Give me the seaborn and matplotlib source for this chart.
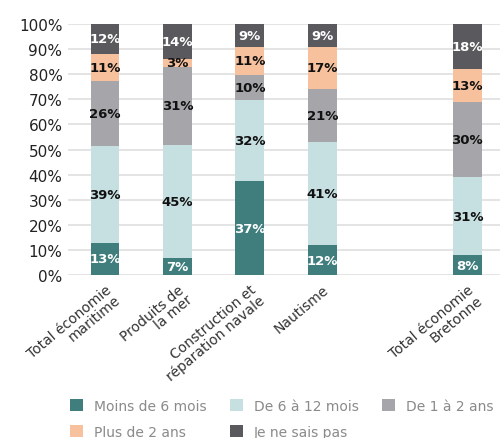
import matplotlib
matplotlib.use("Agg")
import matplotlib.pyplot as plt
import seaborn as sns
import pandas as pd
import numpy as np
from matplotlib.patches import Patch

categories = ["Total économie\nmaritime", "Produits de\nla mer", "Construction et\nréparation navale",
              "Nautisme", "Total économie\nBretonne"]
series = ["Moins de 6 mois", "De 6 à 12 mois", "De 1 à 2 ans", "Plus de 2 ans", "Je ne sais pas"]
moins_6_mois = [13, 7, 37, 12, 8]
de_6_a_12_mois = [39, 45, 32, 41, 31]
de_1_a_2_ans = [26, 31, 10, 21, 30]
plus_2_ans = [11, 3, 11, 17, 13]
ne_sait_pas = [12, 14, 9, 9, 18]

colors = ["#3f7e7d", "#c6dfe1", "#a6a5aa", "#f8c19d", "#5a595e"]
label_colors = ["white", "#111111", "#111111", "#111111", "white"]

values = np.array([moins_6_mois, de_6_a_12_mois, de_1_a_2_ans, plus_2_ans, ne_sait_pas], dtype=float)
# 100% stacked: each bar is scaled to its own total
shares = values / values.sum(axis=0) * 100
tops = np.cumsum(shares, axis=0)

# empty slot separates the regional total from the sectors
order = categories[:4] + [" "] + categories[4:]

sns.set_style("white")
plt.rcParams["font.family"] = ["DejaVu Sans"]

fig = plt.figure(figsize=(5.04, 4.39), dpi=100)
ax = fig.add_axes([0.135, 0.371, 0.857, 0.572])

for i in reversed(range(len(series))):
    df = pd.DataFrame({"cat": categories, "top": tops[i]})
    sns.barplot(data=df, x="cat", y="top", order=order, color=colors[i],
                width=0.4, saturation=1, ax=ax, linewidth=0, errorbar=None)

pos = {c: order.index(c) for c in categories}
for i in range(len(series)):
    for j, c in enumerate(categories):
        mid = tops[i][j] - shares[i][j] / 2
        ax.text(pos[c], mid, f"{int(values[i][j])}%", ha="center", va="center",
                fontsize=9.5, fontweight="bold", color=label_colors[i])

ax.set_ylim(0, 100)
ax.set_xlim(-0.51, 5.45)
ax.set_yticks(range(0, 101, 10))
ax.set_yticklabels([f"{v}%" for v in range(0, 101, 10)], fontsize=11, color="#222222")
ax.yaxis.grid(True, color="#e2e2e2", linewidth=1.3)
ax.set_axisbelow(True)
for s in ax.spines.values():
    s.set_visible(False)
ax.tick_params(axis="both", length=0)
ax.tick_params(axis="y", pad=4)
ax.set_xlabel("")
ax.set_ylabel("")
ax.set_xticks(range(len(order)))
ax.set_xticklabels(order, rotation=40, ha="right", rotation_mode="anchor",
                   fontsize=10, color="#333333", linespacing=0.95)
ax.tick_params(axis="x", pad=5)

handles = [Patch(facecolor=c, edgecolor="none") for c in colors]
idx = [0, 3, 1, 4, 2]
fig.legend([handles[k] for k in idx], [series[k] for k in idx], ncol=3,
           loc="lower left", bbox_to_anchor=(0.115, -0.03), frameon=False,
           fontsize=10, labelcolor="#8a8a8a", handlelength=0.9, handleheight=0.9,
           columnspacing=1.7, handletextpad=0.8, labelspacing=0.85)

fig.savefig("out.png", dpi=100)
